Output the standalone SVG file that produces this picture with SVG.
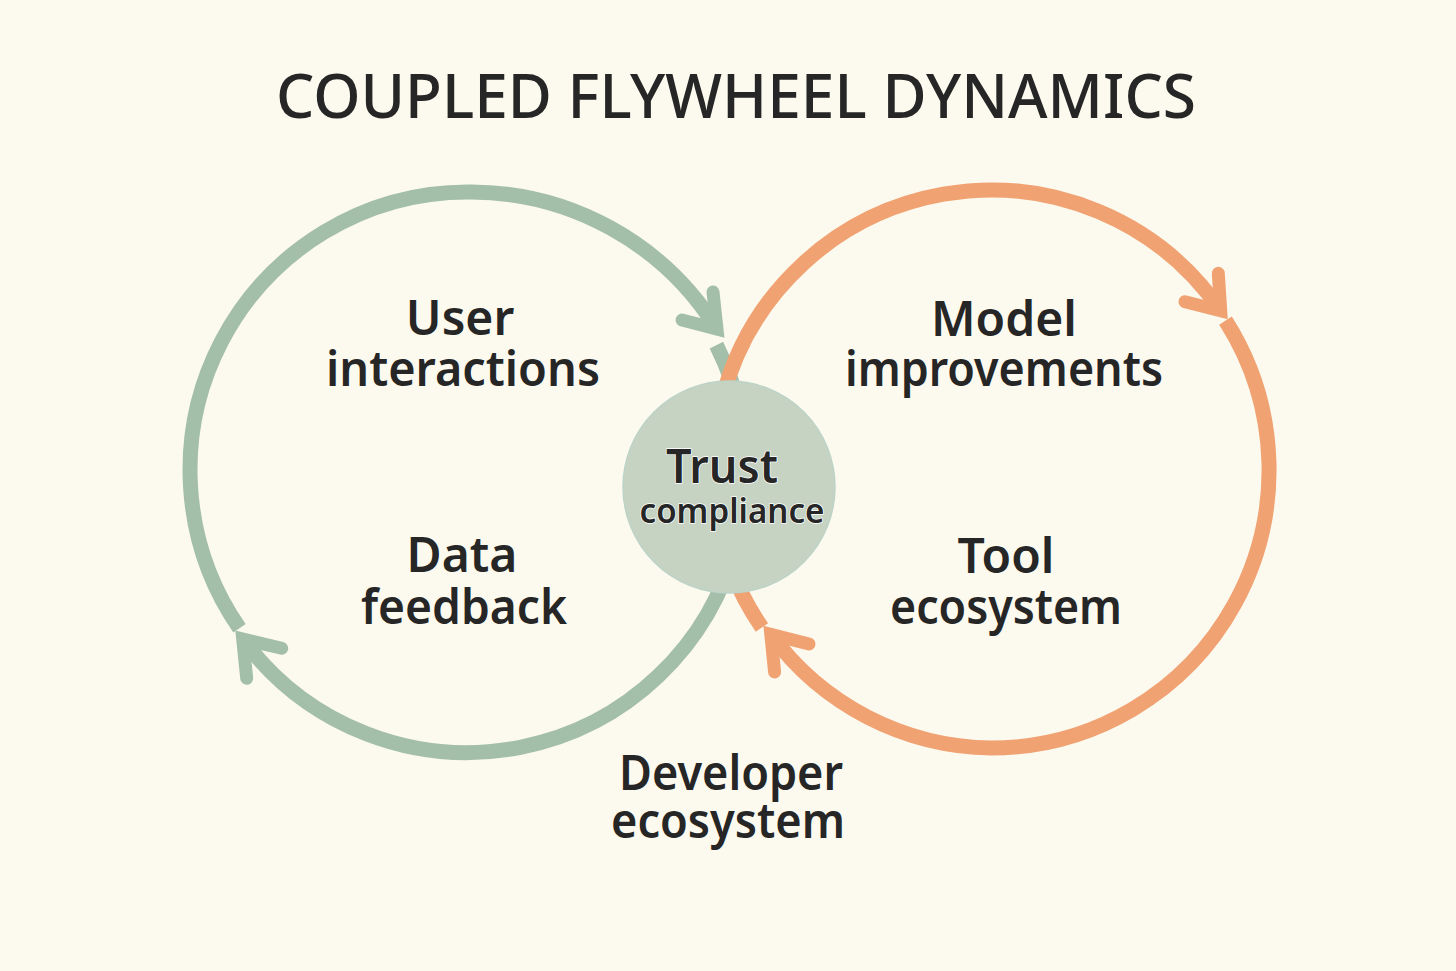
<svg xmlns="http://www.w3.org/2000/svg" width="1456" height="971" viewBox="0 0 1456 971">
<style>
.bg{fill:#fcfaef}
.g{fill:none;stroke:#a4bfa9;stroke-width:15}
.o{fill:none;stroke:#f0a272;stroke-width:15}
.gh{fill:none;stroke:#a4bfa9;stroke-width:13;stroke-linecap:round;stroke-linejoin:miter;stroke-miterlimit:6}
.oh{fill:none;stroke:#f0a272;stroke-width:13;stroke-linecap:round;stroke-linejoin:miter;stroke-miterlimit:6}
.t{font-family:"Noto Sans","Open Sans","Liberation Sans",sans-serif;font-weight:600;fill:#262626;text-anchor:middle}
.title{font-size:62px;font-weight:500}
.lbl{font-size:48px}
.ct{stroke:#ffffff;stroke-width:1.5;paint-order:stroke;stroke-linejoin:round}
</style>
<rect class="bg" x="0" y="0" width="1456" height="971"/>
<g id="title">
<text class="t title" x="736" y="118" textLength="920" lengthAdjust="spacingAndGlyphs">COUPLED FLYWHEEL DYNAMICS</text>
</g>
<g id="connectors">
<path class="g" d="M239.5,628.3 A278,278 0 0 1 468,192 A290,290 0 0 1 717,329"/>
<path class="gh" d="M713,292 L717,329 L682,320"/>
<path class="g" d="M716.4,345.1 A278,278 0 0 1 744.9,494.2"/>
<path class="g" d="M736.5,542 A278,278 0 0 1 242.7,639"/>
<path class="gh" d="M281.7,648.3 L242.7,639 L246.7,678.3"/>
<path class="o" d="M722.5,398 A278,278 0 0 1 1220.7,310.7"/>
<path class="oh" d="M1218.3,273.3 L1220.7,310.7 L1185,301.7"/>
<path class="o" d="M1225.5,320.6 A278,278 0 0 1 991,748 A278,278 0 0 1 770.8,634.4"/>
<path class="oh" d="M809,644 L770.8,634.4 L774.6,672"/>
<path class="o" d="M761.9,627.5 A278,278 0 0 1 714.1,494.2"/>
</g>
<g id="node-trust">
<circle cx="729" cy="487" r="106" fill="#c6d3c2" stroke="#bdd3c8" stroke-width="1.5"/>
<text class="t ct" x="722" y="483" font-size="46" textLength="112" lengthAdjust="spacingAndGlyphs">Trust</text>
<text class="t ct" x="732" y="523" font-size="34" textLength="185" lengthAdjust="spacingAndGlyphs">compliance</text>
</g>
<g id="node-user">
<text class="t lbl" x="460" y="335">User</text>
<text class="t lbl" x="463" y="386" textLength="274" lengthAdjust="spacingAndGlyphs">interactions</text>
</g>
<g id="node-data">
<text class="t lbl" x="462" y="572">Data</text>
<text class="t lbl" x="464" y="624" textLength="206" lengthAdjust="spacingAndGlyphs">feedback</text>
</g>
<g id="node-model">
<text class="t lbl" x="1004" y="336">Model</text>
<text class="t lbl" x="1004" y="386" textLength="318" lengthAdjust="spacingAndGlyphs">improvements</text>
</g>
<g id="node-tool">
<text class="t lbl" x="1006" y="573">Tool</text>
<text class="t lbl" x="1006" y="624" textLength="232" lengthAdjust="spacingAndGlyphs">ecosystem</text>
</g>
<g id="node-developer">
<text class="t lbl" x="731" y="790" textLength="224" lengthAdjust="spacingAndGlyphs">Developer</text>
<text class="t lbl" x="728" y="838" textLength="234" lengthAdjust="spacingAndGlyphs">ecosystem</text>
</g>
</svg>
